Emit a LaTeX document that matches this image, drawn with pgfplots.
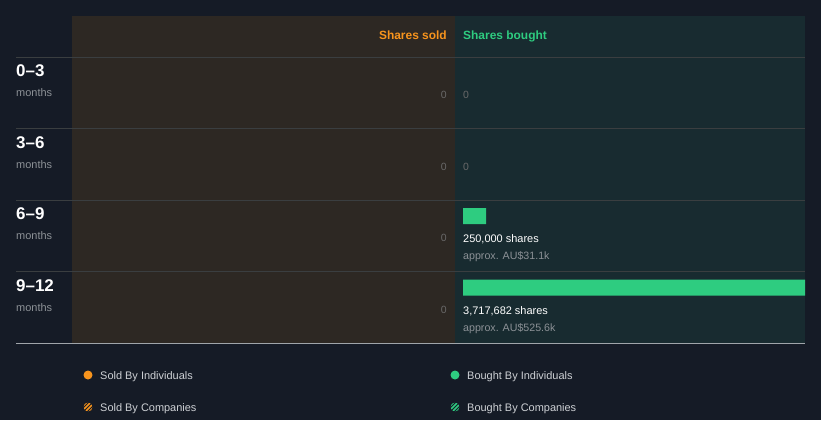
\documentclass[border=0pt]{standalone}
\usepackage{pgfplots}
\pgfplotsset{compat=1.18}
\usepackage{fontspec}
\setmainfont{Liberation Sans}
\definecolor{bg}{RGB}{21,27,38}
\definecolor{soldpanel}{RGB}{45,40,35}
\definecolor{boughtpanel}{RGB}{24,43,48}
\definecolor{gridc}{RGB}{58,62,64}
\definecolor{basec}{RGB}{160,165,170}
\definecolor{sgreen}{RGB}{46,204,128}
\definecolor{sorange}{RGB}{247,148,29}
\definecolor{lbl}{RGB}{140,145,150}
\definecolor{zeroc}{RGB}{105,105,105}
\definecolor{legc}{RGB}{205,208,212}
\newcommand\fs[1]{\fontsize{#1}{#1}\selectfont}
\begin{document}
\begin{tikzpicture}[x=1bp,y=-1bp,every node/.style={inner sep=0pt}]
\fill[bg] (0,0) rectangle (821,420);
\fill[soldpanel] (72,16) rectangle (455,343);
\fill[boughtpanel] (455,16) rectangle (805,343);
\foreach \yy in {57,128.5,200,271.5} \draw[gridc, line width=1bp] (16,\yy) -- (805,\yy);
\draw[basec, line width=1bp] (16,343) -- (805,343);
% header
\node[anchor=base east, text=sorange, font=\bfseries\fs{12}] at (447,39) {Shares sold};
\node[anchor=base west, text=sgreen, font=\bfseries\fs{12}] at (463,39) {Shares bought};
% row labels
\foreach \i/\lab in {0/0–3,1/3–6,2/6–9,3/9–12}{
  \node[anchor=base west, text=white, font=\bfseries\fs{17}] at (16,{57+71.5*\i+19.5}) {\lab};
  \node[anchor=base west, text=lbl, font=\fs{11}] at (16,{57+71.5*\i+39.5}) {months};
  \node[anchor=base east, text=zeroc, font=\fs{10.5}] at (447,{57+71.5*\i+41.5}) {0};
}
\foreach \i in {0,1}{
  \node[anchor=base west, text=zeroc, font=\fs{10.5}] at (463,{57+71.5*\i+41.5}) {0};
}
\node[anchor=base west, text=white, font=\fs{11}] at (463,242.3) {250,000 shares};
\node[anchor=base west, text=lbl, font=\fs{10.7}] at (463,259.5) {approx. AU\$31.1k};
\node[anchor=base west, text=white, font=\fs{11}] at (463,314) {3,717,682 shares};
\node[anchor=base west, text=lbl, font=\fs{10.7}] at (463,331.5) {approx. AU\$525.6k};
% legend
\fill[sorange] (88,375) circle (4.5);
\node[anchor=base west, text=legc, font=\fs{11}] at (100,379) {Sold By Individuals};
\fill[sgreen] (455,375) circle (4.5);
\node[anchor=base west, text=legc, font=\fs{11}] at (467,379) {Bought By Individuals};
\begin{scope}
\clip (88,407) circle (4.5);
\foreach \d in {-6,-2,2,6} \draw[sorange, line width=1.5bp] ({82+\d},413) -- ({94+\d},401);
\end{scope}
\node[anchor=base west, text=legc, font=\fs{11}] at (100,411) {Sold By Companies};
\begin{scope}
\clip (455,407) circle (4.5);
\foreach \d in {-6,-2,2,6} \draw[sgreen, line width=1.5bp] ({449+\d},413) -- ({461+\d},401);
\end{scope}
\node[anchor=base west, text=legc, font=\fs{11}] at (467,411) {Bought By Companies};
% data
\begin{axis}[at={(72bp,-343bp)}, anchor=south west, scale only axis,
  width=733bp, height=327bp,
  xmin=-4250330, xmax=3717682, ymin=-0.797, ymax=3.776, y dir=reverse,
  hide axis, xbar, bar width=16bp, bar shift=0pt, clip=false,
  unbounded coords=discard, x filter/.expression={x==0 ? nan : x}]
\addplot[fill=sorange, draw=none] coordinates {(0,0) (0,1) (0,2) (0,3)};
\addplot[fill=sorange!60, draw=none] coordinates {(0,0) (0,1) (0,2) (0,3)};
\addplot[fill=sgreen, draw=none] coordinates {(0,0) (0,1) (250000,2) (3717682,3)};
\addplot[fill=sgreen!60, draw=none] coordinates {(0,0) (0,1) (0,2) (0,3)};
\end{axis}
\end{tikzpicture}
\end{document}
